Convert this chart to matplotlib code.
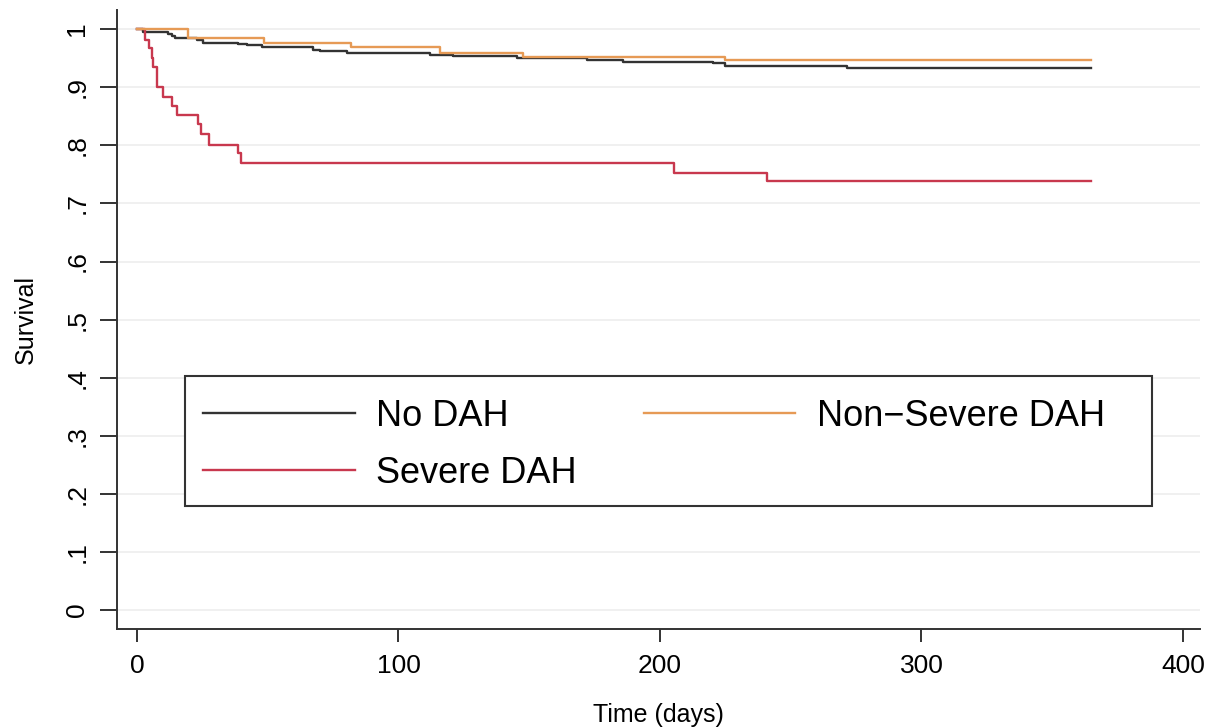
import matplotlib
matplotlib.use("Agg")
import matplotlib.pyplot as plt
from matplotlib.patches import Rectangle

plt.rcParams['font.family'] = ['Liberation Sans', 'DejaVu Sans']

# Kaplan-Meier step data
no_dah_t = [0, 2.4, 12, 13.3, 14.5, 22.8, 25.4, 38.7, 42, 47.7, 67.4, 70, 80.2,
            112, 121, 145.2, 172, 185.7, 220.4, 224.9, 271.4, 365]
no_dah_s = [1.0, 0.995, 0.992, 0.989, 0.985, 0.981, 0.977, 0.974, 0.972, 0.969,
            0.965, 0.962, 0.959, 0.955, 0.953, 0.950, 0.947, 0.944, 0.941, 0.937,
            0.934, 0.934]

nonsev_t = [0, 19.6, 48.7, 82, 115.9, 147.5, 224.9, 365]
nonsev_s = [1.0, 0.985, 0.976, 0.969, 0.959, 0.952, 0.947, 0.947]

severe_t = [0, 3.1, 4.7, 5.6, 6.2, 7.5, 10.1, 13.3, 15.4, 23.5, 24.4, 27.5,
            38.8, 39.6, 205.4, 241, 365]
severe_s = [1.0, 0.981, 0.967, 0.950, 0.935, 0.900, 0.884, 0.867, 0.852, 0.836,
            0.820, 0.801, 0.786, 0.770, 0.753, 0.738, 0.738]

y_ticks = [0, 0.1, 0.2, 0.3, 0.4, 0.5, 0.6, 0.7, 0.8, 0.9, 1.0]
y_labels = ["0", ".1", ".2", ".3", ".4", ".5", ".6", ".7", ".8", ".9", "1"]
x_ticks = [0, 100, 200, 300, 400]

fig = plt.figure(figsize=(12.1, 7.28), dpi=100)
ax = fig.add_axes([0.0967, 0.136, 0.895, 0.85])

l1, = ax.plot(no_dah_t, no_dah_s, drawstyle='steps-post', color='#333333', lw=1.7)
l3, = ax.plot(severe_t, severe_s, drawstyle='steps-post', color='#C8384E', lw=1.7)
l2, = ax.plot(nonsev_t, nonsev_s, drawstyle='steps-post', color='#E69A55', lw=1.7)

ax.set_xlim(-7.65, 406.5)
ax.set_ylim(-0.0327, 1.0327)
ax.set_xticks(x_ticks)
ax.set_yticks(y_ticks)
ax.set_yticklabels(y_labels, rotation=90, va='center')
ax.tick_params(axis='both', labelsize=19, width=1.4, color='#333333')
ax.tick_params(axis='x', length=9, pad=9)
ax.tick_params(axis='y', length=12, pad=8)
ax.grid(axis='y', color='#EEEEEE', lw=1.2)
ax.set_axisbelow(True)
for side in ['top', 'right']:
    ax.spines[side].set_visible(False)
for side in ['left', 'bottom']:
    ax.spines[side].set_linewidth(1.4)
    ax.spines[side].set_color('#333333')

ax.set_xlabel("Time (days)", fontsize=18, labelpad=18)
ax.set_ylabel("Survival", fontsize=18, labelpad=20)

# legend box drawn separately so the columns sit where Stata put them
ax.add_patch(Rectangle((0.0628, 0.1987), 0.893, 0.21, transform=ax.transAxes,
                       facecolor='white', edgecolor='#333333', lw=1.5, zorder=4))
leg = ax.legend([l1, l3, l2], ["No DAH", "Severe DAH", "Non\u2212Severe DAH"],
                ncol=2, loc='upper left', bbox_to_anchor=(0.0794, 0.3715),
                fontsize=26, handlelength=4.2, handletextpad=0.6,
                labelspacing=0.6, borderpad=0, borderaxespad=0,
                columnspacing=1.85, frameon=False)
leg.set_zorder(5)

fig.savefig("out.png", dpi=100)
